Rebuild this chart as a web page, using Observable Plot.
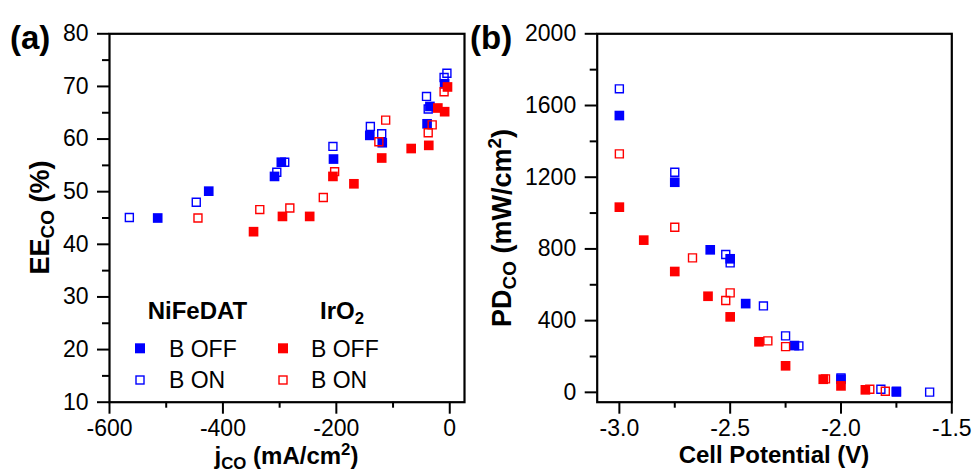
<!DOCTYPE html>
<html><head><meta charset="utf-8">
<script src="https://cdn.jsdelivr.net/npm/d3@7"></script>
<script src="https://cdn.jsdelivr.net/npm/@observablehq/plot@0.6"></script>
<style>
body{margin:0;background:#fff;}
#wrap{position:relative;width:975px;height:472px;overflow:hidden;font-family:"Liberation Sans",Arial,sans-serif;}
#wrap svg{position:absolute;top:0;}
</style></head><body><div id="wrap"></div>
<script>
// ---------- Panel (a): EE_CO (%) vs j_CO (mA/cm2) ----------
const aNiOffJ  = [-515, -425, -309, -297, -205, -141, -119, -40, -35, -9];
const aNiOffEE = [45.0, 50.1, 52.9, 55.6, 56.2, 60.7, 59.3, 62.9, 66.2, 70.5];
const aNiOnJ   = [-565, -447, -305, -291, -206, -140, -120, -41, -38, -10, -5];
const aNiOnEE  = [45.1, 48.0, 53.7, 55.6, 58.6, 62.4, 61.0, 68.1, 65.7, 71.7, 72.5];
const aIrOffJ  = [-346, -295, -247, -206, -169, -120, -68, -37, -21, -9, -4];
const aIrOffEE = [42.4, 45.3, 45.3, 52.9, 51.5, 56.4, 58.2, 58.8, 65.9, 65.2, 69.9];
const aIrOnJ   = [-444, -335, -282, -223, -203, -125, -113, -38, -31, -10];
const aIrOnEE  = [45.0, 46.6, 46.9, 48.9, 53.8, 59.5, 63.6, 61.2, 62.7, 69.0];

// ---------- Panel (b): PD_CO (mW/cm2) vs Cell Potential (V) ----------
const bNiOffV  = [-3.00, -2.75, -2.59, -2.50, -2.43, -2.21, -2.00, -1.75];
const bNiOffPD = [1544, 1172, 795, 745, 495, 261, 73, 2];
const bNiOnV   = [-3.00, -2.75, -2.52, -2.50, -2.35, -2.25, -2.19, -2.00, -1.82, -1.75, -1.60];
const bNiOnPD  = [1693, 1228, 769, 722, 482, 315, 259, 80, 17, 6, 1];
const bIrOffV  = [-3.00, -2.89, -2.75, -2.60, -2.50, -2.37, -2.25, -2.08, -2.00, -1.89];
const bIrOffPD = [1033, 849, 674, 536, 421, 282, 148, 73, 36, 14];
const bIrOnV   = [-3.00, -2.75, -2.67, -2.52, -2.50, -2.33, -2.25, -2.07, -1.87, -1.80];
const bIrOnPD  = [1330, 921, 750, 512, 555, 287, 255, 75, 17, 6];

// ---------- ticks & labels ----------
const aXTicks = [-600, -400, -200, 0];
const aXMinor = [-500, -300, -100];
const aYTicks = [10, 20, 30, 40, 50, 60, 70, 80];
const aYMinor = [15, 25, 35, 45, 55, 65, 75];
const bXTicks = [-3.0, -2.5, -2.0, -1.5];
const bXMinor = [-2.75, -2.25, -1.75];
const bYTicks = [0, 400, 800, 1200, 1600, 2000];
const bYMinor = [200, 600, 1000, 1400, 1800];
const catalysts = ["NiFeDAT", "IrO2"];
const fieldStates = ["B OFF", "B ON"];
const colors = {"NiFeDAT": "#0000ff", "IrO2": "#ff0000"};

const FONT = '"Liberation Sans", Arial, sans-serif';
const zip = (xs, ys) => xs.map((x, i) => ({x, y: ys[i]}));

function dots(data, color, filled) {
  return filled
    ? Plot.dot(data, {x: "x", y: "y", symbol: "square", r: 5.45, fill: color, stroke: "none"})
    : Plot.dot(data, {x: "x", y: "y", symbol: "square", r: 4.5, fill: "none", stroke: color, strokeWidth: 1.4});
}

function axes(xT, xM, yT, yM, xFmt, yFmt) {
  return [
    Plot.axisY({ticks: yT, tickSize: 12, tickPadding: 9, strokeWidth: 2, fontSize: 23, tickFormat: yFmt, label: null}),
    Plot.axisY({ticks: yM, tickSize: 7, strokeWidth: 2, tickFormat: () => "", label: null}),
    Plot.axisX({ticks: xT, tickSize: 12, tickPadding: 5, strokeWidth: 2, fontSize: 23, tickFormat: xFmt, label: null}),
    Plot.axisX({ticks: xM, tickSize: 6, strokeWidth: 2, tickFormat: () => "", label: null}),
    Plot.frame({stroke: "black", strokeWidth: 2.2})
  ];
}
const style = {fontFamily: FONT, fontSize: "23px", color: "black", background: "transparent", overflow: "visible"};

const plotA = Plot.plot({
  width: 480, height: 472,
  marginLeft: 109, marginRight: 16, marginTop: 33.3, marginBottom: 70.3,
  x: {domain: [-600, 26], label: null},
  y: {domain: [10, 80], label: null},
  style,
  marks: [
    ...axes(aXTicks, aXMinor, aYTicks, aYMinor, d => String(d), d => String(d)),
    dots(zip(aNiOffJ, aNiOffEE), colors.NiFeDAT, true),
    dots(zip(aNiOnJ, aNiOnEE), colors.NiFeDAT, false),
    dots(zip(aIrOffJ, aIrOffEE), colors.IrO2, true),
    dots(zip(aIrOnJ, aIrOnEE), colors.IrO2, false)
  ]
});

const plotB = Plot.plot({
  width: 495, height: 472,
  marginLeft: 116.7, marginRight: 23.7, marginTop: 33.3, marginBottom: 70.3,
  x: {domain: [-3.1, -1.5], label: null},
  y: {domain: [-55, 2000], label: null},
  style,
  marks: [
    ...axes(bXTicks, bXMinor, bYTicks, bYMinor, d => d.toFixed(1), d => String(d)),
    dots(zip(bNiOffV, bNiOffPD), colors.NiFeDAT, true),
    dots(zip(bNiOnV, bNiOnPD), colors.NiFeDAT, false),
    dots(zip(bIrOffV, bIrOffPD), colors.IrO2, true),
    dots(zip(bIrOnV, bIrOnPD), colors.IrO2, false)
  ]
});

const wrap = document.getElementById("wrap");
plotA.style.left = "0px";
plotB.style.left = "480px";
wrap.appendChild(plotA);
wrap.appendChild(plotB);

// ---------- overlay: panel letters, axis titles, legend ----------
const ov = d3.select(wrap).append("svg")
  .attr("width", 975).attr("height", 472)
  .style("left", "0px").style("pointer-events", "none")
  .attr("font-family", FONT);

function rich(parent, parts, fs) {
  // parts: [text, "n"|"sub"|"sup"]
  const t = parent.append("text").attr("font-size", fs);
  let shift = 0;
  for (const [s, k] of parts) {
    const target = k === "sub" ? 0.2 * fs : k === "sup" ? -0.38 * fs : 0;
    t.append("tspan")
      .attr("dy", target - shift)
      .attr("font-size", k === "n" ? fs : 0.7 * fs)
      .text(s);
    shift = target;
  }
  return t;
}

ov.append("text").attr("x", 10).attr("y", 49).attr("font-size", 33).attr("font-weight", "bold").text("(a)");
ov.append("text").attr("x", 470).attr("y", 49).attr("font-size", 33).attr("font-weight", "bold").text("(b)");

rich(ov.append("g").attr("transform", "translate(49,217.5) rotate(-90)"),
  [["EE", "n"], ["CO", "sub"], [" (%)", "n"]], 27)
  .attr("text-anchor", "middle").attr("font-weight", "bold");
rich(ov.append("g").attr("transform", "translate(511,228) rotate(-90)"),
  [["PD", "n"], ["CO", "sub"], [" (mW/cm", "n"], ["2", "sup"], [")", "n"]], 27)
  .attr("text-anchor", "middle").attr("font-weight", "bold");
rich(ov.append("g").attr("transform", "translate(286.5,464)"),
  [["j", "n"], ["CO", "sub"], [" (mA/cm", "n"], ["2", "sup"], [")", "n"]], 24)
  .attr("text-anchor", "middle").attr("font-weight", "bold");
ov.append("text").attr("x", 774).attr("y", 463.3).attr("text-anchor", "middle")
  .attr("font-size", 24).attr("font-weight", "bold").text("Cell Potential (V)");

// legend
const legendCols = [
  {name: catalysts[0], x: 147.7, mx: 140, tx: 169},
  {name: catalysts[1], x: 320, mx: 283, tx: 311}
];
legendCols.forEach(c => {
  const head = c.name === "IrO2" ? [["IrO", "n"], ["2", "sub"]] : [[c.name, "n"]];
  rich(ov.append("g").attr("transform", `translate(${c.x},319.3)`), head, 24).attr("font-weight", "bold");
  fieldStates.forEach((s, i) => {
    const cy = i === 0 ? 348.3 : 380;
    if (i === 0) {
      ov.append("rect").attr("x", c.mx - 5).attr("y", cy - 5).attr("width", 10).attr("height", 10).attr("fill", colors[c.name]);
    } else {
      ov.append("rect").attr("x", c.mx - 4).attr("y", cy - 4).attr("width", 8).attr("height", 8)
        .attr("fill", "none").attr("stroke", colors[c.name]).attr("stroke-width", 1.4);
    }
    ov.append("text").attr("x", c.tx).attr("y", cy + 8.2).attr("font-size", 23).text(s);
  });
});
</script>
</body></html>
